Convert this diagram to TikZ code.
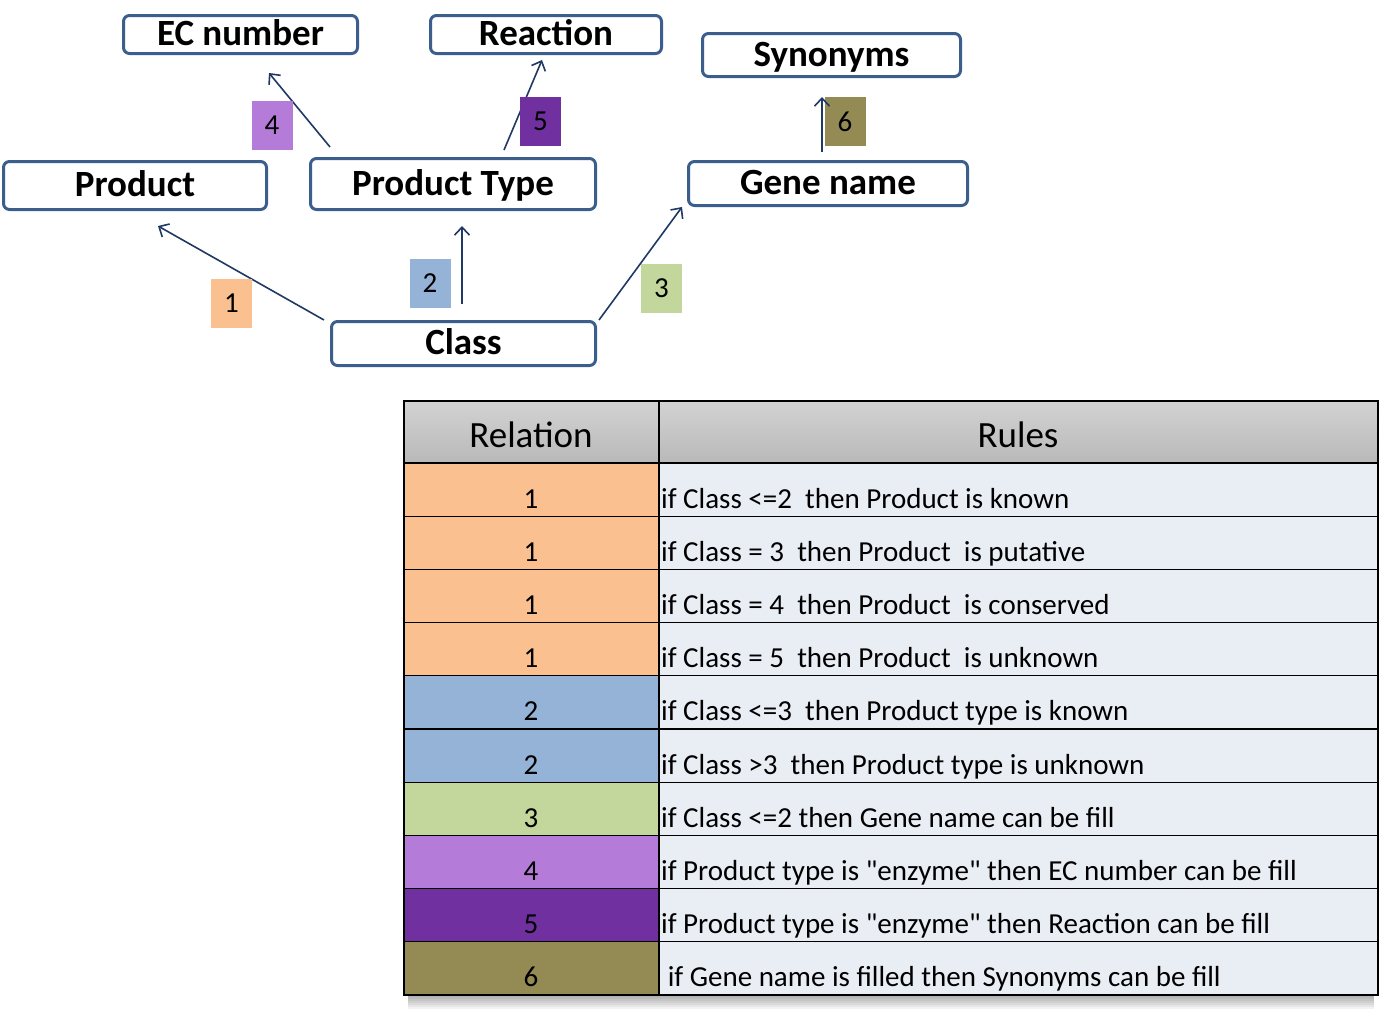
\documentclass[tikz,border=0pt]{standalone}
\usepackage{fontspec}
\setmainfont{Carlito}[Ligatures=TeXOff]
\usetikzlibrary{arrows.meta,calc}
\definecolor{boxblue}{RGB}{59,94,140}
\definecolor{arrowc}{RGB}{31,56,100}
\definecolor{cone}{RGB}{250,192,144}
\definecolor{ctwo}{RGB}{149,179,215}
\definecolor{cthree}{RGB}{195,214,155}
\definecolor{cfour}{RGB}{180,123,216}
\definecolor{cfive}{RGB}{112,48,160}
\definecolor{csix}{RGB}{148,138,84}
\definecolor{rowbg}{RGB}{233,237,244}
\begin{document}
\begin{tikzpicture}[x=1pt,y=-1pt,
  entity/.style={draw=boxblue, line width=3pt, rounded corners=6pt, fill=white,
    font=\fontsize{37}{40}\selectfont\bfseries, inner sep=0pt,
    text height=22pt, text depth=-6pt},
  lab/.style={inner sep=0pt, font=\fontsize{29}{32}\selectfont,
    minimum width=41pt, minimum height=49pt},
  rel/.style={draw=arrowc, line width=1.6pt,
    -{Straight Barb[length=8pt,width=15pt,line width=1.6pt]}},
  cellnum/.style={anchor=base, font=\fontsize{29}{32}\selectfont, inner sep=0pt},
  celltxt/.style={anchor=base west, font=\fontsize{29}{32}\selectfont, inner sep=0pt},
  headtxt/.style={anchor=base, font=\fontsize{37}{40}\selectfont, inner sep=0pt},
]
\useasboundingbox (0,0) rectangle (1386,1012);

% ---- entity boxes ----
\node[entity, minimum width=234pt, minimum height=38pt] (ec)   at (240.5,34.5) {EC number};
\node[entity, minimum width=231pt, minimum height=38pt] (reac) at (546,34.5)   {Reaction};
\node[entity, minimum width=258pt, minimum height=43pt] (syn)  at (831.5,55)   {Synonyms};
\node[entity, minimum width=263pt, minimum height=48pt] (prod) at (135,185.5)  {Product};
\node[entity, minimum width=285pt, minimum height=51pt] (ptype) at (453,184)   {Product Type};
\node[entity, minimum width=279pt, minimum height=44pt] (gene) at (828,183.5)  {Gene name};
\node[entity, minimum width=264pt, minimum height=44pt] (cls)  at (463.5,343.5) {Class};

% ---- connector end points ----
\coordinate (a1s) at (324,320); \coordinate (a1e) at (158,226);
\coordinate (a2s) at (462,304); \coordinate (a2e) at (462,226);
\coordinate (a3s) at (599,320); \coordinate (a3e) at (682,207);
\coordinate (a4s) at (330,147); \coordinate (a4e) at (269,73);
\coordinate (a5s) at (504,150); \coordinate (a5e) at (542,60);
\coordinate (a6s) at (822,152); \coordinate (a6e) at (822,97);

\draw[rel] (a1s) -- (a1e);
\draw[rel] (a2s) -- (a2e);
\draw[rel] (a3s) -- (a3e);
\draw[rel] (a4s) -- (a4e);
\draw[rel] (a5s) -- (a5e);

% ---- relation labels ----
\node[lab, fill=cone]   (l1) at (231.5,303.5) {1};
\node[lab, fill=ctwo]   (l2) at (430,283.5)   {2};
\node[lab, fill=cthree] (l3) at (661.5,288.5) {3};
\node[lab, fill=cfour]  (l4) at (272,125.5)   {4};
\node[lab, fill=cfive]  (l5) at (540.5,121.5) {5};
\node[lab, fill=csix]   (l6) at (845,121.5)   {6};
\draw[rel] (a6s) -- (a6e);

% ---- table shadow ----
\foreach \k in {2,4,...,14}
  \fill[black, opacity=0.05] (408,990) rectangle (1374,995+\k);

% ---- table header ----
\shade[top color=gray!35, middle color=gray!8, bottom color=gray!55]
  (404,401) rectangle (1378,463);
\node[headtxt] (hrel) at (531,447) {Relation};
\node[headtxt] (hrul) at (1018,447) {Rules};

% ---- table rows ----
\foreach \i/\c/\n/\t in {
  0/cone/1/{if Class <=2 \ then Product is known},
  1/cone/1/{if Class = 3 \ then Product \ is putative},
  2/cone/1/{if Class = 4 \ then Product \ is conserved},
  3/cone/1/{if Class = 5 \ then Product \ is unknown},
  4/ctwo/2/{if Class <=3 \ then Product type is known},
  5/ctwo/2/{if Class >3 \ then Product type is unknown},
  6/cthree/3/{if Class <=2 then Gene name can be fill},
  7/cfour/4/{if Product type is "enzyme" then EC number can be fill},
  8/cfive/5/{if Product type is "enzyme" then Reaction can be fill},
  9/csix/6/{\ if Gene name is filled then Synonyms can be fill}}{
  \pgfmathsetmacro{\rtop}{463+53.2*\i}
  \pgfmathsetmacro{\rbot}{463+53.2*(\i+1)}
  \fill[\c] (404,\rtop) rectangle (659,\rbot);
  \fill[rowbg] (659,\rtop) rectangle (1378,\rbot);
  \node[cellnum] (n\i) at (531,\rtop+45) {\n};
  \node[celltxt] (t\i) at (661,\rtop+45) {\t};
}
\foreach \i in {0,...,10}
  \draw[line width=1.3pt] (404,463+53.2*\i) -- (1378,463+53.2*\i);
\draw[line width=1.3pt] (659,401) -- (659,995);
\draw[line width=2pt] (404,401) rectangle (1378,995);
\end{tikzpicture}
\end{document}
